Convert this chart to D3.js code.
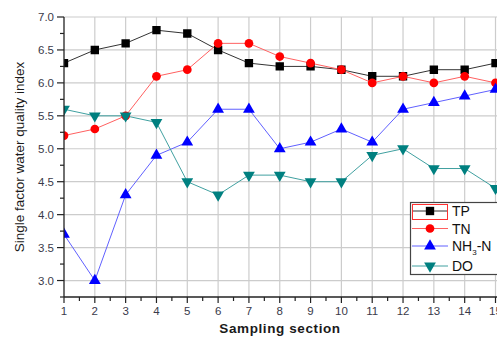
<!DOCTYPE html>
<html><head><meta charset="utf-8">
<script src="https://cdn.jsdelivr.net/npm/d3@7"></script>
<style>
html,body{margin:0;padding:0;background:#fff;}
svg{display:block;font-family:"Liberation Sans",Arial,sans-serif;}
</style></head>
<body><svg id="c" width="497" height="338"></svg>
<script>
const sections = [1,2,3,4,5,6,7,8,9,10,11,12,13,14,15];
const tp  = [6.3,6.5,6.6,6.8,6.75,6.5,6.3,6.25,6.25,6.2,6.1,6.1,6.2,6.2,6.3];
const tn  = [5.2,5.3,5.5,6.1,6.2,6.6,6.6,6.4,6.3,6.2,6.0,6.1,6.0,6.1,6.0];
const nh3 = [3.7,3.0,4.3,4.9,5.1,5.6,5.6,5.0,5.1,5.3,5.1,5.6,5.7,5.8,5.9];
const dox = [5.6,5.5,5.5,5.4,4.5,4.3,4.6,4.6,4.5,4.5,4.9,5.0,4.7,4.7,4.4];
const yTicks = [3.0,3.5,4.0,4.5,5.0,5.5,6.0,6.5,7.0];
const seriesNames = ["TP","TN","NH3-N","DO"];

const svg = d3.select("#c");
const L=64, R=495.5, T=17, B=297;
const x = d3.scaleLinear().domain([1,15]).range([L,R]);
const y = d3.scaleLinear().domain([2.75,7.0]).range([B,T]);

// grid
const g = svg.append("g");
g.selectAll("line.vg").data(sections.slice(1)).enter().append("line")
  .attr("x1",d=>x(d)).attr("x2",d=>x(d)).attr("y1",T).attr("y2",B)
  .attr("stroke","#cccccc").attr("stroke-width",1.2);
g.selectAll("line.hg").data(yTicks).enter().append("line")
  .attr("x1",L).attr("x2",497).attr("y1",d=>y(d)).attr("y2",d=>y(d))
  .attr("stroke","#cccccc").attr("stroke-width",1.2);

// clip
svg.append("clipPath").attr("id","pc").append("rect")
  .attr("x",L).attr("y",T-10).attr("width",R-L+10).attr("height",B-T+10);

const series = [
  {name:"TP", v:tp, line:"#333333", fill:"#000000", sym:d3.symbolSquare, size:70},
  {name:"TN", v:tn, line:"#ff6060", fill:"#ff0000", sym:d3.symbolCircle, size:60},
  {name:"NH3-N", v:nh3, line:"#6060ff", fill:"#0000ff", sym:d3.symbolTriangle, size:60},
  {name:"DO", v:dox, line:"#40a0a0", fill:"#008080", sym:"down", size:60}
];
function symPath(s){
  if(s.sym==="down") return d3.symbol().type(d3.symbolTriangle).size(s.size)();
  return d3.symbol().type(s.sym).size(s.size)();
}
const pg = svg.append("g").attr("clip-path","url(#pc)");
series.forEach(s=>{
  const line = d3.line().x((d,i)=>x(sections[i])).y(d=>y(d));
  pg.append("path").datum(s.v).attr("d",line).attr("fill","none")
    .attr("stroke",s.line).attr("stroke-width",1);
});
series.forEach(s=>{
  pg.selectAll(null).data(s.v).enter().append("path")
    .attr("d",symPath(s))
    .attr("transform",(d,i)=>`translate(${x(sections[i])},${y(d)})`+(s.sym==="down"?" rotate(180)":""))
    .attr("fill",s.fill);
});

// axes
const axc = "#222";
const lblc = "#3a3a4a";
svg.append("line").attr("x1",L).attr("x2",L).attr("y1",T).attr("y2",B).attr("stroke",axc).attr("stroke-width",1.3);
svg.append("line").attr("x1",L).attr("x2",497).attr("y1",B).attr("y2",B).attr("stroke",axc).attr("stroke-width",1.3);
// y ticks major
const yMinor = d3.range(2.75,7.0001,0.25).filter(v=>Math.abs((v*2)-Math.round(v*2))>0.01);
svg.selectAll(null).data(yTicks).enter().append("line")
  .attr("x1",L-7).attr("x2",L).attr("y1",d=>y(d)).attr("y2",d=>y(d)).attr("stroke",axc).attr("stroke-width",1.2);
svg.selectAll(null).data(yMinor).enter().append("line")
  .attr("x1",L-4).attr("x2",L).attr("y1",d=>y(d)).attr("y2",d=>y(d)).attr("stroke",axc).attr("stroke-width",1.2);
svg.selectAll(null).data(yTicks).enter().append("text")
  .attr("x",L-10).attr("y",d=>y(d)+4).attr("text-anchor","end")
  .attr("font-size",11.5).attr("fill",lblc).text(d=>d.toFixed(1));
// x ticks
svg.selectAll(null).data(sections).enter().append("line")
  .attr("x1",d=>x(d)).attr("x2",d=>x(d)).attr("y1",B).attr("y2",B+6).attr("stroke",axc).attr("stroke-width",1.2);
svg.selectAll(null).data(sections.slice(0,-1)).enter().append("line")
  .attr("x1",d=>x(d+0.5)).attr("x2",d=>x(d+0.5)).attr("y1",B).attr("y2",B+4).attr("stroke",axc).attr("stroke-width",1.2);
svg.selectAll(null).data(sections).enter().append("text")
  .attr("x",d=>x(d)).attr("y",B+18).attr("text-anchor","middle")
  .attr("font-size",11.5).attr("fill",lblc).text(d=>d);

// titles
svg.append("text").attr("x",280).attr("y",333).attr("text-anchor","middle")
  .attr("font-size",13.5).attr("font-weight","bold").attr("fill","#1a1a1a").attr("letter-spacing",0.6).text("Sampling section");
svg.append("text").attr("transform","translate(24,157) rotate(-90)").attr("text-anchor","middle")
  .attr("font-size",13.5).attr("fill","#1a1a1a").text("Single factor water quality index");

// legend
const lg = svg.append("g");
lg.append("rect").attr("x",410.5).attr("y",202.5).attr("width",90).attr("height",72)
  .attr("fill","#fff").attr("stroke","#444").attr("stroke-width",1.2);
const ly = [211,228.5,246,266];
series.forEach((s,i)=>{
  lg.append("line").attr("x1",412).attr("x2",448).attr("y1",ly[i]).attr("y2",ly[i]).attr("stroke",s.line).attr("stroke-width",1);
  lg.append("path").attr("d",symPath(s))
    .attr("transform",`translate(430,${ly[i]})`+(s.sym==="down"?" rotate(180)":"")).attr("fill",s.fill);
  const t = lg.append("text").attr("x",452).attr("y",ly[i]+5).attr("font-size",14).attr("fill","#111");
  if(seriesNames[i]==="NH3-N"){
    t.append("tspan").text("NH");
    t.append("tspan").attr("font-size",8).attr("dy",4).text("3");
    t.append("tspan").attr("dy",-4).text("-N");
  } else t.text(seriesNames[i]);
});
lg.append("rect").attr("x",412.5).attr("y",204.5).attr("width",35).attr("height",15)
  .attr("fill","none").attr("stroke","#ff3030").attr("stroke-width",1);
</script></body></html>
